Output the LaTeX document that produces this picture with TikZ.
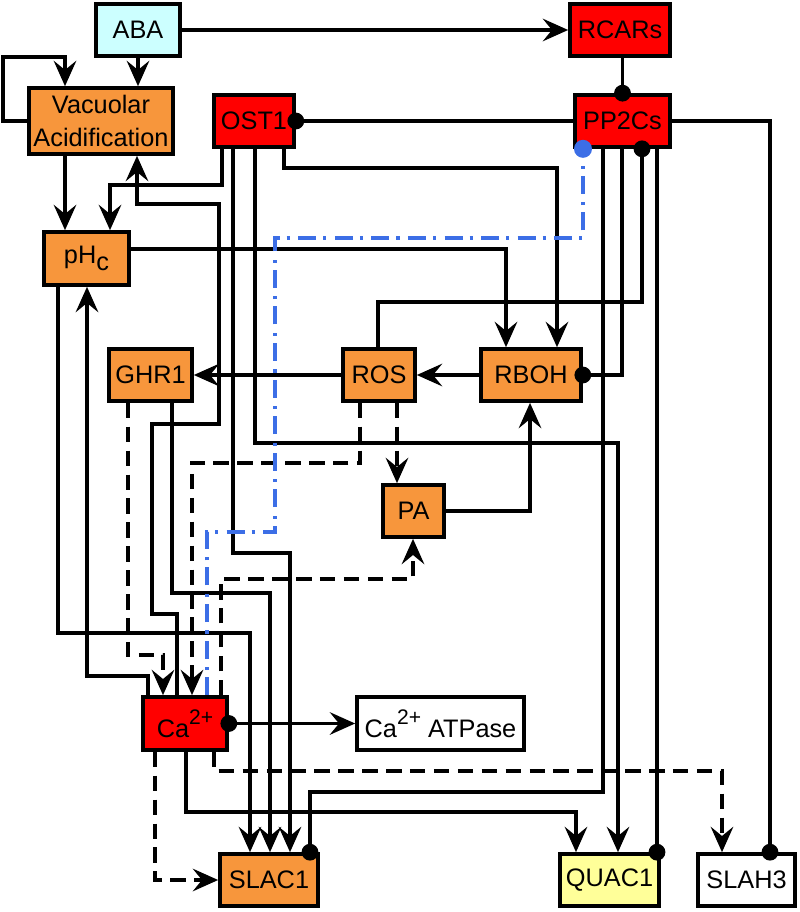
\documentclass[tikz,border=0pt]{standalone}
\usepackage{fontspec}
\setmainfont{Liberation Sans}
\usetikzlibrary{arrows.meta}
\definecolor{orng}{RGB}{247,150,60}
\definecolor{abac}{RGB}{204,255,255}
\definecolor{quac}{RGB}{255,255,153}
\definecolor{bluel}{RGB}{60,110,230}
\definecolor{redn}{RGB}{255,0,0}
\newcommand{\supp}[1]{\raisebox{0.5em}{\fontsize{15}{15}\selectfont #1}}
\begin{document}
\begin{tikzpicture}[x=0.025cm,y=-0.025cm,
  box/.style={draw,line width=2.6pt,inner sep=0pt,minimum height=1.3cm,font=\fontsize{18}{23}\selectfont,align=center},
  ln/.style={line width=2.5pt},
  arr/.style={ln,-{Stealth[length=18pt,width=16pt,inset=6.5pt]}},
  dsh/.style={dash pattern=on 11pt off 6pt},
  dashdotb/.style={ln,bluel,dash pattern=on 12.8pt off 5pt on 2.2pt off 6pt},
  dotn/.style={circle,fill=black,draw=none,solid,inner sep=0pt,minimum size=0.42cm},
  bdotn/.style={circle,fill=bluel,draw=none,solid,inner sep=0pt,minimum size=0.45cm}]
\useasboundingbox (0,0) rectangle (800,912);
% nodes
\node[box,fill=abac,minimum width=2.1cm] (ABA) at (138,30) {ABA};
\node[box,fill=redn,minimum width=2.5cm] (RCARs) at (620,30) {RCARs};
\node[box,fill=orng,minimum width=3.6cm,minimum height=1.65cm] (Vac) at (101,121) {Vacuolar\\Acidification};
\node[box,fill=redn,minimum width=2.0cm] (OST1) at (254,121) {OST1};
\node[box,fill=redn,minimum width=2.375cm] (PP2Cs) at (622.5,121) {PP2Cs};
\node[box,fill=orng,minimum width=2.125cm,minimum height=1.325cm] (pHc) at (86.5,258.5) {pH\raisebox{-0.3em}{c}};
\node[box,fill=orng,minimum width=2.075cm] (GHR1) at (150.5,375) {GHR1};
\node[box,fill=orng,minimum width=1.8cm] (ROS) at (379,375) {ROS};
\node[box,fill=orng,minimum width=2.5cm] (RBOH) at (531,375) {RBOH};
\node[box,fill=orng,minimum width=1.525cm] (PA) at (413.5,511) {PA};
\node[box,fill=redn,minimum width=2.1cm,minimum height=1.325cm] (Ca) at (185,723.5) {Ca\supp{2+}};
\node[box,fill=white,minimum width=4.175cm,minimum height=1.325cm] (ATPase) at (440.5,723.5) {Ca\supp{2+} ATPase};
\node[box,fill=orng,minimum width=2.45cm] (SLAC1) at (269,880) {SLAC1};
\node[box,fill=quac,minimum width=2.475cm] (QUAC1) at (609.5,880) {QUAC1};
\node[box,fill=white,minimum width=2.425cm] (SLAH3) at (746.5,880) {SLAH3};
% solid activating connectors
\draw[arr] (ABA.east) -- (RCARs.west);
\draw[arr] (ABA.south) -- (ABA.south |- Vac.north);
\draw[arr] (Vac.west) -| (3,57) -| (Vac.north -| 65,0);
\draw[arr] (Vac.south -| 65,0) -- (pHc.north -| 65,0);
\draw[arr] (OST1.south -| 222,0) |- (110,185) -- (pHc.north -| 110,0);
\draw[arr] (Ca.north -| 177,0) -- (177,614) -- (152,614) -- (152,424) -- (219,424) -- (219,204) -- (137,204) -- (Vac.south -| 137,0);
\draw[arr] (OST1.south -| 284,0) |- (557,168) -- (RBOH.north -| 557,0);
\draw[arr] (pHc.east |- 0,249) -| (RBOH.north -| 506,0);
\draw[arr] (OST1.south -| 233,0) |- (290,553) -- (SLAC1.north -| 290,0);
\draw[arr] (OST1.south -| 255,0) |- (618,443) -- (QUAC1.north -| 618,0);
\draw[arr] (RBOH.west) -- (ROS.east);
\draw[arr] (ROS.west) -- (GHR1.east);
\draw[arr] (PA.east) -| (RBOH.south -| 530,0);
\draw[arr] (GHR1.south -| 172,0) |- (270,593) -- (SLAC1.north -| 270,0);
\draw[arr] (pHc.south -| 58,0) |- (250,633) -- (SLAC1.north -| 250,0);
\draw[arr] (Ca.north -| 148,0) |- (87,676) -- (pHc.south -| 87,0);
\draw[arr] (Ca.south -| 186,0) |- (576,812) -- (QUAC1.north -| 576,0);
\draw[arr] (Ca.east) node[dotn]{} -- (ATPase.west);
% dashed connectors
\draw[arr,dsh] (ROS.south -| 397,0) -- (PA.north -| 397,0);
\draw[arr,dsh] (ROS.south -| 360,0) |- (192,463) -- (Ca.north -| 192,0);
\draw[arr,dsh] (Ca.north -| 221,0) |- (413,579) -- (PA.south -| 413,0);
\draw[arr,dsh] (GHR1.south -| 128,0) |- (163,655) -- (Ca.north -| 163,0);
\draw[arr,dsh] (Ca.south -| 155,0) |- (SLAC1.west);
\draw[arr,dsh] (Ca.south -| 214,0) |- (722,771) -- (SLAH3.north -| 722,0);
% inhibitory connectors
\draw[ln] (PP2Cs.north |- RCARs.south) -- (PP2Cs.north) node[dotn]{};
\draw[ln] (PP2Cs.west) -- (OST1.east) node[dotn]{};
\draw[ln] (PP2Cs.east) -| (SLAH3.north -| 770,0) node[dotn]{};
\draw[ln] (ROS.north -| 378,0) |- (642,302) -- (PP2Cs.south -| 642,0) node[dotn]{};
\draw[ln] (PP2Cs.south -| 622,0) |- (RBOH.east) node[dotn]{};
\draw[ln] (PP2Cs.south -| 603,0) |- (310,792) -- (SLAC1.north -| 310,0) node[dotn]{};
\draw[ln] (PP2Cs.south -| 657,0) -- (QUAC1.north -| 657,0) node[dotn]{};
\draw[dashdotb] (Ca.north -| 207,0) |- (275,532) |- (583,238) -- (PP2Cs.south -| 583,0) node[bdotn]{};
\end{tikzpicture}
\end{document}
